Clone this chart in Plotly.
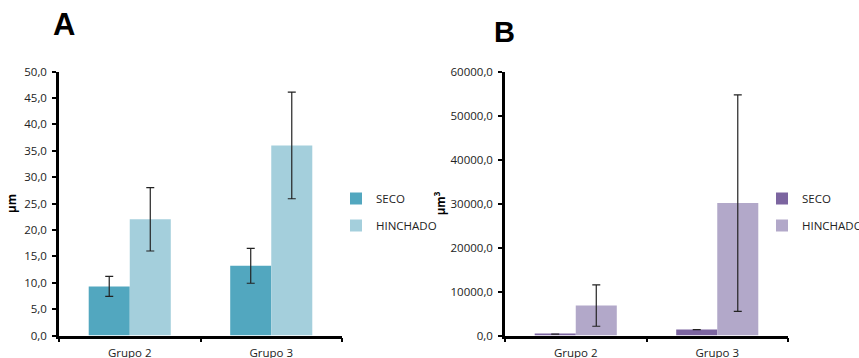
import plotly.graph_objects as go

categories = ["Grupo 2", "Grupo 3"]

# Panel A (µm)
a_seco = [9.3, 13.2]
a_seco_err = [1.9, 3.3]
a_hinchado = [22.0, 36.0]
a_hinchado_err = [6.0, 10.1]

# Panel B (µm³)
b_seco = [300, 1350]
b_seco_err = [0, 0]
b_hinchado = [6800, 30100]
b_hinchado_err = [4700, 24600]

series_names = ["SECO", "HINCHADO"]
panel_titles = ["A", "B"]

FONT = "Open Sans"
colA = ["#52A7BF", "#A4CFDC"]
colB = ["#7C65A0", "#B2A8C9"]

fig = go.Figure()

def add_bar(y, err, name, color, xa, ya, legend, group):
    fig.add_trace(go.Bar(
        x=categories, y=y, name=name, marker=dict(color=color, line=dict(width=0)),
        error_y=dict(type="data", array=err, visible=True, color="#222222", thickness=1.2, width=4),
        xaxis=xa, yaxis=ya, legend=legend, legendgroup=group,
    ))

add_bar(a_seco, a_seco_err, series_names[0], colA[0], "x", "y", "legend", "a1")
add_bar(a_hinchado, a_hinchado_err, series_names[1], colA[1], "x", "y", "legend", "a2")
add_bar(b_seco, b_seco_err, series_names[0], colB[0], "x2", "y2", "legend2", "b1")
add_bar(b_hinchado, b_hinchado_err, series_names[1], colB[1], "x2", "y2", "legend2", "b2")

W, H = 859, 358
ydom = [(358 - 335.5) / H, (358 - 71.5) / H]

xcommon = dict(
    type="category", showline=True, linecolor="black", linewidth=2.5,
    ticks="outside", tickson="boundaries", ticklen=4, tickwidth=2, tickcolor="black",
    tickfont=dict(family=FONT, size=11.5, color="#222222"), showgrid=False, zeroline=False,
    fixedrange=True, automargin=False, ticklabelstandoff=5,
)
ycommon = dict(
    showline=True, linecolor="black", linewidth=2.5, ticks="outside", ticklen=4,
    tickwidth=2, tickcolor="black", tickformat=".1f", showgrid=False, zeroline=False,
    tickfont=dict(family=FONT, size=11.5, color="#222222"), automargin=False,
    ticklabelstandoff=3,
)

legcommon = dict(
    font=dict(family=FONT, size=11.5, color="#222222"), bgcolor="rgba(0,0,0,0)",
    tracegroupgap=8, yanchor="middle", xanchor="left", y=(358 - 212) / H,
    itemclick=False, itemdoubleclick=False,
)

fig.update_layout(
    template="none",
    width=W, height=H, margin=dict(l=0, r=0, t=0, b=0, autoexpand=False),
    paper_bgcolor="white", plot_bgcolor="white",
    separators=",.", barmode="group", bargap=0.42, bargroupgap=0,
    xaxis=dict(domain=[59 / W, 342 / W], anchor="y", **xcommon),
    yaxis=dict(domain=ydom, anchor="x", range=[0, 50], dtick=5,
               title=dict(text="µm", standoff=6, font=dict(family=FONT, size=11.5, color="black", weight="bold")),
               **ycommon),
    xaxis2=dict(domain=[505 / W, 788 / W], anchor="y2", **xcommon),
    yaxis2=dict(domain=ydom, anchor="x2", range=[0, 60000], dtick=10000,
                title=dict(text="µm<sup>3</sup>", standoff=3, font=dict(family=FONT, size=11.5, color="black", weight="bold")),
                **ycommon),
    legend=dict(x=(377 - 41) / W, **legcommon),
    legend2=dict(x=(803 - 41) / W, **legcommon),
    annotations=[
        dict(text="<b>%s</b>" % panel_titles[0], x=63.5 / W, y=(358 - 25) / H, xref="paper", yref="paper",
             xanchor="center", yanchor="middle",
             showarrow=False, font=dict(family="Liberation Sans", size=31, color="black")),
        dict(text="<b>%s</b>" % panel_titles[1], x=505 / W, y=(358 - 31.5) / H, xref="paper", yref="paper",
             xanchor="center", yanchor="middle",
             showarrow=False, font=dict(family="Liberation Sans", size=29, color="black")),
    ],
    showlegend=True,
)

fig.write_html("out.html")
